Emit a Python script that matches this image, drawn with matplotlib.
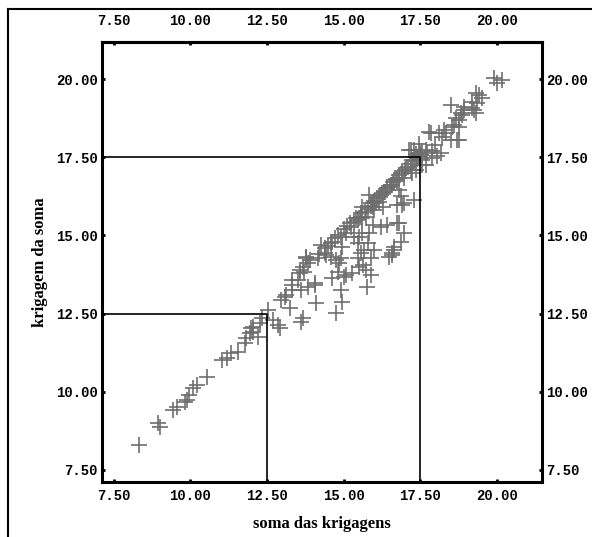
import matplotlib.pyplot as plt
from matplotlib.lines import Line2D
import numpy as np

# --- DATOS ---
soma_krig = [
    8.31, 8.96, 9.02, 9.44, 9.56, 9.83, 9.88, 9.94, 10.10, 10.21, 10.53, 11.02, 11.18, 11.34,
    11.56, 11.78, 11.83, 11.94, 12.04, 12.21, 12.04, 12.26, 12.32, 12.53, 12.69, 12.85, 11.99,
    12.97, 13.08, 13.13, 12.91, 13.24, 13.33, 13.33, 13.50, 13.56, 13.62, 13.62, 13.66, 13.67,
    13.72, 13.78, 13.82, 13.82, 14.05, 14.10, 14.15, 14.43, 14.59, 14.63, 14.70, 14.75, 14.75,
    14.80, 14.86, 14.92, 14.96, 15.08, 15.08, 15.24, 15.28, 15.40, 15.51, 15.57, 15.57, 15.62,
    15.73, 15.78, 15.84, 15.89, 15.94, 15.94, 16.00, 16.16, 16.27, 16.42, 16.59, 16.65, 16.81,
    16.86, 16.97, 16.97,
    19.41, 19.50, 19.34, 19.18, 18.92, 18.81, 18.49, 18.76, 18.60, 18.33, 18.21, 17.84, 18.49,
    18.76, 18.04, 17.88, 17.68, 17.30, 17.51, 17.13, 17.56, 17.35, 17.23, 17.19, 17.03, 16.91,
    16.81, 16.65, 16.54, 16.42, 16.26, 16.16, 16.05, 16.86, 16.91, 17.30, 16.81, 16.75, 16.97,
    17.23, 15.84, 15.89, 15.61, 15.73, 16.00, 15.51, 15.35, 16.21, 16.75, 15.32, 15.61, 14.63,
    14.92, 14.96, 15.45, 15.67, 15.89, 15.45, 15.51, 16.58, 16.65, 16.48, 14.27, 14.38, 14.59,
    14.92, 13.78, 13.89, 13.56, 13.33, 14.05, 15.02, 15.77,
    19.90, 20.15, 19.99, 19.30, 19.18, 18.92, 18.86, 18.65, 19.24, 19.30, 18.53, 18.27, 17.78,
    18.11, 18.70, 18.76, 17.99, 17.46, 17.19, 17.56, 17.72, 18.16, 17.88, 17.56, 17.68,
    15.45, 15.60, 15.70, 15.80, 15.90, 16.00, 16.10, 16.20, 16.30, 16.40, 16.50, 16.60, 16.70,
    16.80, 16.90, 17.00, 17.10, 17.20, 17.30, 17.40, 17.35, 17.45, 17.50, 17.40, 14.20, 14.40,
    14.50, 14.80, 15.00, 15.10, 15.20, 15.55, 15.95, 16.35, 16.55, 16.75,
]
krig_soma = [
    8.30, 9.00, 8.88, 9.42, 9.52, 9.68, 9.74, 9.90, 10.12, 10.22, 10.48, 11.02, 11.08, 11.24,
    11.28, 11.56, 11.72, 11.88, 11.92, 11.76, 12.07, 12.20, 12.36, 12.62, 12.30, 12.14, 12.04,
    12.93, 13.03, 13.09, 12.04, 12.68, 13.41, 13.25, 13.57, 13.80, 13.25, 12.23, 13.99, 12.36,
    13.83, 14.28, 13.35, 14.12, 13.41, 12.84, 14.28, 14.37, 14.76, 13.64, 14.92, 14.21, 12.52,
    13.83, 14.12, 13.25, 12.87, 15.08, 13.73, 15.27, 13.80, 15.56, 14.95, 14.44, 15.72, 14.05,
    13.89, 14.76, 15.08, 13.73, 15.91, 15.33, 14.53, 16.07, 15.91, 15.33, 14.37, 14.53, 15.40,
    14.79, 15.08, 16.04,
    19.49, 19.39, 19.23, 19.07, 19.01, 18.91, 19.17, 18.69, 18.53, 18.27, 18.15, 18.27, 18.05,
    18.05, 17.54, 17.70, 17.73, 17.73, 17.57, 17.73, 17.25, 17.09, 17.41, 17.09, 17.15, 16.99,
    16.93, 16.77, 16.61, 16.51, 16.35, 16.26, 16.04, 16.26, 15.97, 16.13, 16.45, 15.97, 16.84,
    17.00, 16.29, 16.04, 15.91, 15.59, 15.81, 15.56, 15.43, 15.27, 15.40, 14.95, 15.08, 14.79,
    14.95, 14.63, 14.76, 14.53, 14.28, 14.28, 13.99, 14.44, 14.63, 14.31, 14.69, 14.44, 14.31,
    14.28, 14.31, 14.21, 13.89, 13.57, 13.48, 13.67, 13.35,
    20.03, 19.97, 19.87, 19.55, 19.26, 19.10, 18.85, 18.75, 19.01, 18.91, 18.47, 18.37, 18.31,
    18.27, 18.05, 18.47, 17.89, 17.92, 17.73, 17.70, 17.63, 17.63, 17.47, 17.41, 17.25,
    15.50, 15.55, 15.75, 15.85, 15.95, 16.10, 16.20, 16.30, 16.40, 16.45, 16.55, 16.70, 16.80,
    16.85, 17.05, 17.10, 17.20, 17.30, 17.40, 17.50, 17.60, 17.55, 17.65, 17.45, 14.40, 14.60,
    14.65, 15.00, 15.20, 15.30, 15.40, 15.60, 16.05, 16.40, 16.60, 16.75,
]
limiares = [12.5, 17.5]
ticks = [7.5, 10.0, 12.5, 15.0, 17.5, 20.0]
xlim = (7.12, 21.46)
ylim = (7.09, 21.19)

fig = plt.figure(figsize=(5.92, 5.37), dpi=100)
ax = fig.add_axes([0.1723, 0.1015, 0.743, 0.820])

ax.scatter(soma_krig, krig_soma, marker='+', s=120, color='#6e6e6e', linewidths=1.2, zorder=2)

for v in limiares:
    ax.plot([xlim[0], v, v], [v, v, ylim[0]], color='black', lw=1.2, zorder=3)

ax.set_xlim(*xlim)
ax.set_ylim(*ylim)
fmt = [f'{t:.2f}' for t in ticks]
ax.set_xticks(ticks, fmt)
ax.set_yticks(ticks, fmt)

ax.tick_params(direction='in', length=2.5, width=2, pad=3,
               top=False, right=True, labelright=True)
ax.tick_params(axis='x', pad=5)

# eje superior con etiquetas más separadas
sec = ax.secondary_xaxis('top')
sec.set_xticks(ticks, fmt)
sec.tick_params(direction='in', length=2.5, width=2, pad=10)
sec.spines['top'].set_linewidth(2.2)

for a in (ax, sec):
    for lab in a.get_xticklabels() + a.get_yticklabels():
        lab.set_fontfamily('Liberation Mono')
        lab.set_fontweight('bold')
        lab.set_fontsize(10)
for sp in ax.spines.values():
    sp.set_linewidth(2.2)

ax.set_xlabel('soma das krigagens', family='Liberation Serif', fontweight='bold', fontsize=12, labelpad=9)
ax.set_ylabel('krigagem da soma', family='Liberation Serif', fontweight='bold', fontsize=12, labelpad=6)

# marco exterior (arriba e izquierda)
fig.add_artist(Line2D([8 / 592, 1.0], [1 - 9 / 537, 1 - 9 / 537], transform=fig.transFigure, color='black', lw=1.5))
fig.add_artist(Line2D([8 / 592, 8 / 592], [0.0, 1 - 9 / 537], transform=fig.transFigure, color='black', lw=1.5))

fig.savefig('out.png', dpi=100)
